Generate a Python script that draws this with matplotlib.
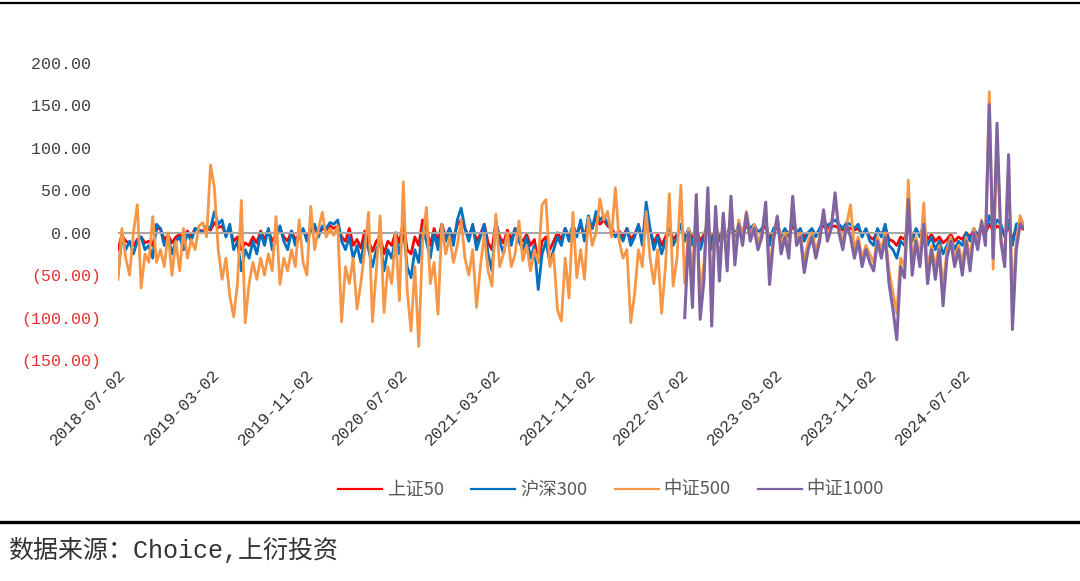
import pandas as pd
import matplotlib
matplotlib.use("Agg")
import matplotlib.pyplot as plt
from matplotlib.lines import Line2D
import matplotlib.dates as mdates

# sample points every 10 days
start = "2018-07-02"
n_points = 236
csi1000_start = 147   # 中证1000 begins here (2022-07)

sz50 = [-20, -3, -10, -12, -15, -8, -5, -12, -10, -15,
        5, 5, -8, -3, -12, -5, -2, -10, 2, -5,
        5, 3, 2, 5, 3, 12, 6, 8, -3, 5,
        -10, -5, -20, -12, -15, -5, -12, 2, -8, 3,
        -10, -2, 5, -5, -10, 2, -8, -2, 3, -5,
        2, 5, -2, 5, 3, 8, 5, 8, -5, -10,
        5, -15, -8, -18, 2, -10, -22, -10, -5, -25,
        -10, -15, 0, -12, 12, -20, -25, -5, -15, 15,
        5, -15, 5, -10, 10, -5, 5, -8, 10, 15,
        5, -5, 8, -10, -2, 10, -12, -20, 12, -5,
        -12, 3, -8, 5, -5, -10, -2, -15, -8, -35,
        -10, -5, -20, -10, 0, -8, 5, -5, 8, -2,
        10, -5, 15, 5, 18, 10, 15, 8, 5, -2,
        2, -5, 5, -8, -2, 8, -8, 20, 3, -12,
        -2, -15, -5, 5, -8, -2, 8, -5, 3, -8,
        5, -10, -2, 8, -10, 5, -5, 3, -2, 8,
        -2, 5, 0, 8, 3, 5, 0, 3, 8, -8,
        3, 5, -2, 3, -2, 8, 0, 3, -5, 0,
        3, -2, 3, 8, 5, 7, 8, 5, 3, 7,
        5, 3, 5, -2, 3, -5, -8, 3, -2, 5,
        -8, -10, -15, -5, -8, 8, -5, 3, -2, 5,
        -8, -2, -10, -5, -12, -8, -2, -10, -5, -8,
        0, -5, 3, -2, 5, 0, 10, 3, 8, 5,
        -2, 8, -8, 5, 6, 4]

hs300 = [-50, -5, -20, -10, -25, -10, -5, -20, -15, -30,
         10, 5, -15, -5, -25, -10, -5, -20, 0, -10,
         5, 3, 0, 8, 5, 25, 10, 15, -5, 10,
         -20, -10, -45, -20, -30, -10, -25, 0, -15, 5,
         -20, -5, 8, -10, -20, 2, -15, -5, 5, -10,
         3, 10, -5, 8, 5, 12, 10, 15, -10, -20,
         -5, -30, -15, -35, -5, -20, -40, -20, -10, -45,
         -20, -30, -5, -25, 5, -40, -53, -20, -35, 5,
         -10, -30, 0, -20, 10, -10, 5, -15, 15, 29,
         5, -10, 10, -20, -5, 10, -25, -45, 15, -10,
         -25, 0, -15, 5, -10, -20, -5, -30, -15, -67,
         -25, -10, -35, -20, -5, -15, 5, -10, 10, -5,
         15, -10, 20, 5, 25, 15, 20, 10, 5, -5,
         0, -10, 5, -15, -5, 10, -15, 36, 5, -20,
         -5, -25, -10, 5, -15, -5, 10, -10, 5, -15,
         10, -20, -5, 15, -20, 10, -10, 5, -5, 15,
         -5, 10, 0, 15, 5, 10, 0, 5, 15, -15,
         5, 10, -5, 5, -5, 15, 0, 5, -10, 0,
         5, -5, 5, 15, 8, 12, 15, 10, 5, 12,
         10, 5, 10, -5, 5, -10, -15, 5, -5, 10,
         -15, -20, -30, -10, -15, 15, -10, 5, -5, 10,
         -15, -5, -20, -10, -25, -15, -5, -20, -10, -15,
         0, -10, 5, -5, 10, 0, 20, 5, 15, 10,
         -5, 15, -15, 10, 12, 8]

zz500 = [-55, 5, -30, -50, 0, 33, -65, -25, -35, 19,
         -35, -20, -40, 0, -50, -10, -45, 5, -30, -8,
         -20, 8, 12, -5, 80, 53, -20, -55, -30, -75,
         -99, -60, 38, -106, -60, -35, -55, -30, -50, -25,
         -45, 19, -61, -30, -45, -20, -40, 15, -35, -50,
         31, -20, 5, 24, -5, 5, -3, 8, -105, -40,
         -60, -30, -90, -59, -20, 24, -105, -45, 20, -94,
         -40, -60, -2, -80, 60, -67, -116, -40, -134, -10,
         30, -60, -35, -96, 10, -25, -5, -35, -15, 15,
         -30, -50, -20, -88, -40, -2, -45, -63, 22, -40,
         -25, 0, -40, -25, 14, -33, -15, -45, -20, -35,
         33, 39, -40, -25, -91, -104, -30, -77, 24, -53,
         -20, -55, 18, -15, 0, 40, 15, 25, -5, 53,
         -10, -30, -20, -106, -72, -20, -40, 25, -30, -60,
         -20, -95, -40, 46, -63, -30, 56,
         -60, 5, -55, 40, -70, -35, 45, -75, 28, -40,
         20, -30, 35, -25, 15, -5, 25, -5, 10, -10,
         0, 30, -45, -5, 20, -15, 0, -20, 35, -10,
         0, -35, -10, 0, -20, -5, 25, -5, 8, 40,
         5, -10, 10, 33, -20, -5, -30, -15, -25, -35,
         -5, -20, 0, -45, -70, -95, -30, -40, 62, -35,
         -5, -30, 35, -45, -15, -40, -15, -65, -20, -5,
         -30, -15, -35, -5, -30, 5, -15, 15, -10, 166,
         -43, 110, -5, -30, 80, -80, -10, 20, 8]

zz1000 = [-100, 0, -88, 45, -102, -55, 53, -110, 31, -57,
          23, -45, 43, -38, 10, -15, 23, -10, 5, -20,
          -5, 36, -61, -10, 19, -25, -5, -30, 43, -15,
          -5, -47, -20, -5, -30, -10, 27, -10, 5, 47,
          0, -20, 10, -5, -30, -10, -40, -20, -35, -45,
          -10, -30, -5, -60, -90, -126, -40, -53, 39, -50,
          -10, -40, 10, -60, -20, -55, -20, -86, -30, -10,
          -40, -20, -50, -10, -45, 0, -20, 13, -15, 151,
          -30, 129, -10, -40, 92, -114, -20, 10, 5]

tick_dates = ["2018-07-02", "2019-03-02", "2019-11-02", "2020-07-02",
              "2021-03-02", "2021-11-02", "2022-07-02", "2023-03-02",
              "2023-11-02", "2024-07-02"]
y_ticks = [200, 150, 100, 50, 0, -50, -100, -150]
zero_axis_end = "2024-06-14"

dates = pd.date_range(start, periods=n_points, freq="10D")

plt.rcParams['font.family'] = ['Liberation Mono', 'Noto Sans CJK SC', 'DejaVu Sans']

fig = plt.figure(figsize=(10.8, 5.81), dpi=100)
ax = fig.add_axes([118/1080, 1-360/581, (1024-118)/1080, (360-63)/581])

ax.plot(dates, sz50, color='#FF0000', lw=2.0, label='上证50', zorder=2)
ax.plot(dates, hs300, color='#0070C0', lw=2.0, label='沪深300', zorder=3)
ax.plot([pd.Timestamp(start), pd.Timestamp(zero_axis_end)], [0, 0],
        color='#A6A6A6', lw=1.5, zorder=3.5)
ax.plot(dates, zz500, color='#F79646', lw=2.0, label='中证500', zorder=4)
ax.plot(dates[csi1000_start:], zz1000, color='#8064A2', lw=2.2,
        label='中证1000', zorder=5)

ax.set_xlim(dates[0], dates[-1])
ax.set_ylim(-150, 200)

for s in ax.spines.values():
    s.set_visible(False)

ax.set_yticks(y_ticks)
ylabels = []
for v in y_ticks:
    if v < 0:
        ylabels.append("(%.2f)" % abs(v))
    else:
        ylabels.append("%.2f " % v)
ax.set_yticklabels(ylabels, fontsize=12)
for lab, v in zip(ax.get_yticklabels(), y_ticks):
    lab.set_color('#E83030' if v < 0 else '#404040')
ax.tick_params(axis='y', length=0, pad=12)

ax.set_xticks(pd.to_datetime(tick_dates))
ax.xaxis.set_major_formatter(mdates.DateFormatter('%Y-%m-%d'))
ax.tick_params(axis='x', length=0, pad=5, labelsize=12, labelcolor='#333333')
for lab in ax.get_xticklabels():
    lab.set_rotation(45)
    lab.set_ha('right')
    lab.set_va('top')
    lab.set_rotation_mode('anchor')

leg = fig.legend(loc='center', bbox_to_anchor=(611/1080, 1-490/581), ncol=4,
                 frameon=False, handlelength=2.4, columnspacing=1.5,
                 handletextpad=0.25,
                 prop={'family': ['Noto Sans CJK SC'], 'size': 13.2})
for t in leg.get_texts():
    t.set_color('#595959')
for h in leg.legend_handles:
    h.set_linewidth(1.6)

fig.add_artist(Line2D([0, 1], [1-3/581, 1-3/581], color='black', lw=1.6))
fig.add_artist(Line2D([0, 1], [1-522/581, 1-522/581], color='black', lw=2.4))
fig.text(8/1080, 1-550/581, "数据来源：Choice,上衍投资", fontsize=18,
         va='center', ha='left', color='#333333',
         family=['Liberation Mono', 'Noto Sans CJK SC'])

fig.savefig("out.png", dpi=100)
